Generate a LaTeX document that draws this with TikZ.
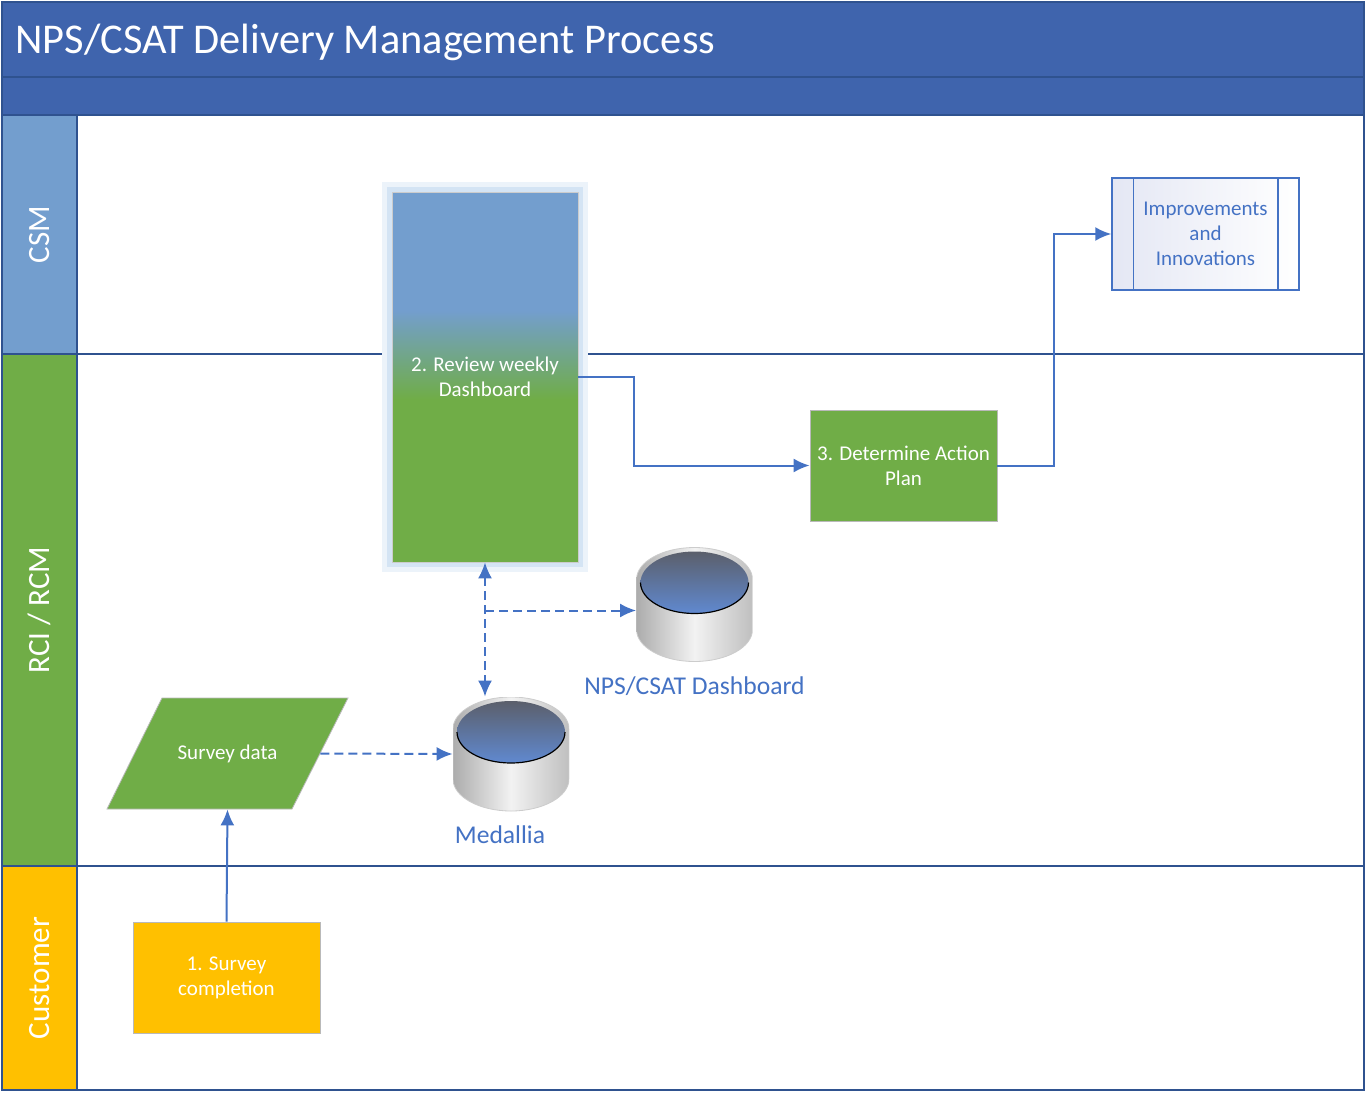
\documentclass[tikz,border=0pt]{standalone}
\usepackage{fontspec}
\setmainfont{Carlito}
\usepackage{tikz}
\usetikzlibrary{shapes,arrows.meta,positioning,calc}
\definecolor{bandblue}{HTML}{3F64AD}
\definecolor{lineblue}{HTML}{2F528F}
\definecolor{csmblue}{HTML}{739ECE}
\definecolor{rcmgreen}{HTML}{70AD47}
\definecolor{custgold}{HTML}{FFC000}
\definecolor{arrowblue}{HTML}{4472C4}
\definecolor{glowblue}{HTML}{C9DDF1}
\definecolor{dbtop}{HTML}{5B5F6B}
\definecolor{dbface}{HTML}{6089D0}
\definecolor{subfill}{HTML}{E4E7F4}
\pgfdeclareverticalshading{csmtorcm}{100bp}{color(0bp)=(rcmgreen); color(47bp)=(rcmgreen); color(59bp)=(csmblue); color(100bp)=(csmblue)}
\tikzset{
  boxtext/.style = {align=center, inner sep=0pt, text centered, font=\fontsize{10.5}{12.5}\selectfont},
  stepbox/.style = {boxtext, rectangle, white, draw=gray!55, fill=rcmgreen, minimum width=93.5pt, minimum height=55.5pt},
  reviewbox/.style = {boxtext, rectangle, white, draw=gray!40, shading=csmtorcm, shade, minimum width=93pt, minimum height=185pt,
    preaction={draw=glowblue!35, line width=10pt}, preaction={draw=glowblue!80, line width=5pt}},
  iofill/.style = {draw=gray!55, fill=rcmgreen},
  iotext/.style = {boxtext, rectangle, white, minimum width=92.5pt, minimum height=55.5pt},
  subproc/.style = {boxtext, rectangle, arrowblue, draw=arrowblue, line width=0.75pt, left color=subfill, right color=white,
    minimum width=93.5pt, minimum height=56pt},
  dbcyl/.style = {rectangle, inner sep=0pt, minimum width=58pt, minimum height=57pt,
    path picture={
      \coordinate (c) at (path picture bounding box.center);
      \shade[left color=gray!65, right color=gray!50, middle color=gray!10, draw=gray!40]
        ($(c)+(-29pt,12.5pt)$) -- ($(c)+(-29pt,-12.5pt)$) arc (180:360:29pt and 16pt)
        -- ($(c)+(29pt,12.5pt)$) arc (0:180:29pt and 16pt) -- cycle;
      \shade[top color=dbtop, bottom color=dbface] ($(c)+(0,11pt)$) ellipse (27pt and 15.5pt);
      \draw[black, line width=0.6pt] ($(c)+(-27pt,11pt)$) arc (180:360:27pt and 15.5pt);
    }},
  dblabel/.style = {inner sep=0pt, arrowblue, font=\fontsize{12.8}{15}\selectfont},
  lanehead/.style = {rotate=90, inner sep=0pt, white, draw=lineblue, line width=0.75pt, minimum height=37.5pt, font=\fontsize{15.5}{18}\selectfont},
  flow/.style = {-{Latex[length=8pt,width=7pt]}, arrowblue, line width=1pt},
  dflow/.style = {flow, dash pattern=on 4.5pt off 2.5pt}
}
\begin{document}
\begin{tikzpicture}[x=0.5pt, y=-0.5pt]
  \useasboundingbox (0,0) rectangle (1367,1093);
  % pool and header bands
  \fill[white] (2,2) rectangle (1364,1090);
  \fill[bandblue] (2,2) rectangle (1364,115);
  \draw[lineblue, line width=0.75pt] (2,77) -- (1364,77);
  \node[anchor=base west, inner sep=0pt, white, font=\fontsize{21.2}{25}\selectfont] (title) at (15,53) {NPS/CSAT Delivery Management Process};
  % lanes
  \node[lanehead, fill=csmblue, minimum width=119.5pt] (csm) at (39.5,234.5) {CSM};
  \node[lanehead, fill=rcmgreen, minimum width=256pt] (rcm) at (39.5,610) {RCI / RCM};
  \node[lanehead, fill=custgold, minimum width=112pt] (cust) at (39.5,978) {Customer};
  \draw[lineblue, line width=0.75pt] (2,115) -- (1364,115);
  \draw[lineblue, line width=0.75pt] (77,354) -- (1364,354);
  \draw[lineblue, line width=0.75pt] (77,866) -- (1364,866);
  \draw[lineblue, line width=0.75pt] (2,2) rectangle (1364,1090);

  % process steps
  \node[reviewbox] (review) at (485,377) {2. Review weekly\\Dashboard};
  \node[stepbox] (action) at (903.5,465.5) {3. Determine Action\\Plan};
  \node[subproc] (impr) at (1205.5,234) {Improvements\\and\\Innovations};
  \draw[arrowblue, line width=0.75pt] ([xshift=11pt]impr.north west) -- ([xshift=11pt]impr.south west);
  \draw[arrowblue, line width=0.75pt] ([xshift=-11pt]impr.north east) -- ([xshift=-11pt]impr.south east);
  % survey data (parallelogram)
  \coordinate (sd) at (227.5,753.5);
  \filldraw[iofill] ($(sd)+(-60.25pt,-27.75pt)$) -- ($(sd)+(-32.75pt,27.75pt)$)
    -- ($(sd)+(60.25pt,27.75pt)$) -- ($(sd)+(32.25pt,-27.75pt)$) -- cycle;
  \node[iotext] (sdata) at (sd) {Survey data};
  \node[stepbox, fill=custgold] (survey) at (226.5,977.5) {1. Survey\\completion};

  % data stores
  \node[dbcyl] (medallia) at (511,754) {};
  \node[dblabel, below=7pt of medallia, xshift=-5.5pt] (medlabel) {Medallia};
  \node[dbcyl] (npsdb) at (694.5,604.5) {};
  \node[dblabel, below=7pt of npsdb] (npslabel) {NPS/CSAT Dashboard};

  % connectors
  \coordinate (npshit) at ($(npsdb.west)+(0,-3pt)$);
  \draw[flow] (survey.north) -- (sdata.south);
  \draw[dflow] (sdata.east) -- (medallia.west);
  \draw[dflow, {Latex[length=8pt,width=7pt]}-{Latex[length=8pt,width=7pt]}] (review.south) -- (review.south |- medallia.north);
  \draw[dflow] (review.south |- npshit) -- (npshit);
  \draw[flow] (review.east) -- ++(28pt,0) |- (action.west);
  \draw[flow] (action.east) -- ++(28.5pt,0) |- (impr.west);
\end{tikzpicture}
\end{document}
